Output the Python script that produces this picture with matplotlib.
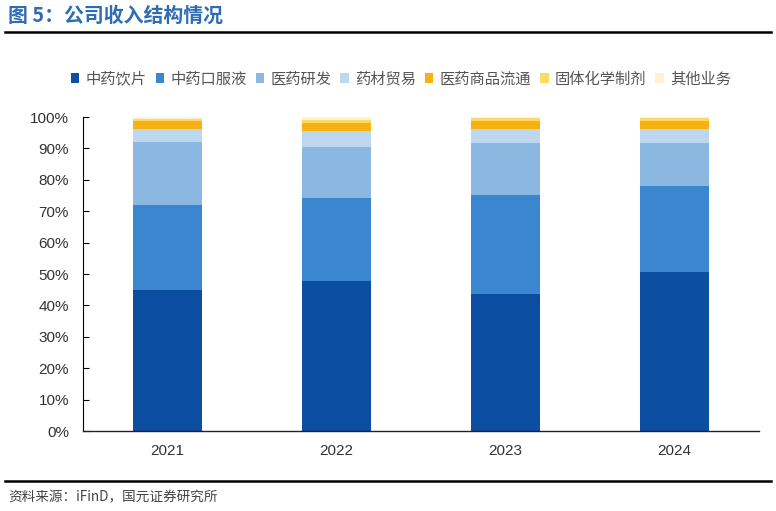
import matplotlib
matplotlib.use("Agg")
import matplotlib.pyplot as plt
from matplotlib.lines import Line2D
from matplotlib.ticker import FuncFormatter

plt.rcParams['font.family'] = ['Noto Sans CJK SC', 'DejaVu Sans']

years = ['2021', '2022', '2023', '2024']
series_names = ['中药饮片', '中药口服液', '医药研发', '药材贸易', '医药商品流通', '固体化学制剂', '其他业务']
s_yinpian = [45.0, 47.8, 43.6, 50.6]
s_koufuye = [27.0, 26.4, 31.6, 27.4]
s_yanfa = [20.0, 16.3, 16.5, 13.8]
s_maoyi = [4.3, 5.1, 4.6, 4.5]
s_liutong = [2.5, 2.6, 2.5, 2.5]
s_zhiji = [0.7, 1.0, 0.8, 0.8]
s_other = [0.5, 0.8, 0.4, 0.4]
series = [s_yinpian, s_koufuye, s_yanfa, s_maoyi, s_liutong, s_zhiji, s_other]
colors = ['#0B4EA2', '#3A87D0', '#8BB8E0', '#BDD7EE', '#F7B211', '#FFD966', '#FFF2CC']

fig = plt.figure(figsize=(7.76, 5.11), dpi=100)
ax = fig.add_axes([83/776, 1-431/511, 676/776, 314/511])

x = list(range(len(years)))
bottom = [0.0]*len(years)
for vals, name, c in zip(series, series_names, colors):
    ax.bar(x, vals, bottom=bottom, width=0.41, color=c, label=name, edgecolor='none')
    bottom = [b+v for b, v in zip(bottom, vals)]

ax.set_xlim(-0.5, 3.5)
ax.set_ylim(0, 100)
ax.set_yticks(range(0, 101, 10))
ax.yaxis.set_major_formatter(FuncFormatter(lambda v, p: f'{int(v)}%'))
ax.set_xticks(x)
ax.set_xticklabels(years)
for s in ['top', 'right']:
    ax.spines[s].set_visible(False)
ax.spines['bottom'].set_color('#222222')
ax.spines['bottom'].set_linewidth(1.0)
ax.spines['left'].set_color('#000000')
ax.spines['left'].set_linewidth(0.8)
ax.tick_params(axis='y', direction='in', length=4, width=0.8, color='#000000',
               labelsize=11, labelcolor='#333333', pad=10, labelfontfamily='Liberation Sans')
ax.tick_params(axis='x', length=0, labelsize=11, labelcolor='#333333', pad=9, labelfontfamily='Liberation Sans')

leg = fig.legend(loc='center', bbox_to_anchor=(401/776, 1-79/511), ncol=7, frameon=False,
                 fontsize=11, handlelength=0.55, handleheight=0.55, handletextpad=0.4,
                 columnspacing=0.6)
for t in leg.get_texts():
    t.set_color('#555555')

fig.text(8/776, 1-15/511, '图 5：公司收入结构情况', fontsize=14.3, fontweight='bold',
         color='#2E6DB4', va='center', ha='left')
fig.add_artist(Line2D([5/776, 771/776], [1-32/511, 1-32/511], color='#000000', linewidth=1.8))
fig.add_artist(Line2D([5/776, 771/776], [1-481/511, 1-481/511], color='#000000', linewidth=1.8))
fig.text(8/776, 1-497/511, '资料来源：iFinD，国元证券研究所', fontsize=9.8, color='#444444',
         va='center', ha='left')

fig.savefig('out.png', dpi=100)
